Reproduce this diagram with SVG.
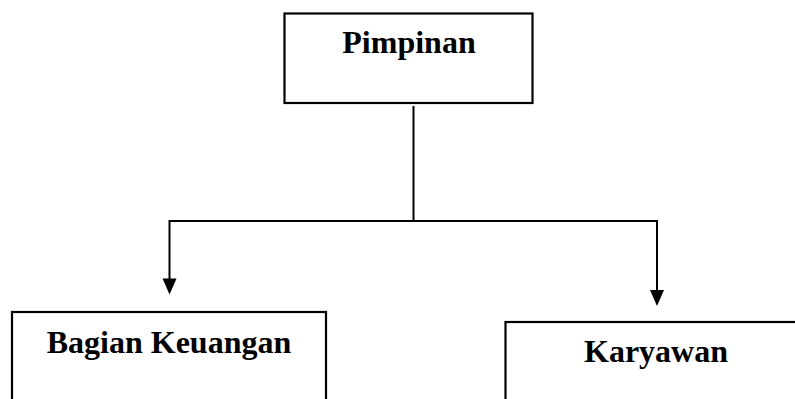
<svg xmlns="http://www.w3.org/2000/svg" width="795" height="399" viewBox="0 0 795 399">
<defs>
<style>
.box{fill:#fff;stroke:#000;stroke-width:2.2}
.lbl{font-family:"Liberation Serif","Times New Roman",serif;font-weight:bold;font-size:32px;fill:#000;text-anchor:middle}
.con{fill:none;stroke:#000;stroke-width:2}
</style>
</defs>
<rect width="795" height="399" fill="#fff"/>
<g id="pimpinan">
<rect class="box" x="284.5" y="13.5" width="248" height="89.5"/>
<text class="lbl" x="409" y="53">Pimpinan</text>
</g>
<g id="bagian-keuangan">
<rect class="box" x="12" y="312" width="314" height="100"/>
<text class="lbl" x="169" y="353">Bagian Keuangan</text>
</g>
<g id="karyawan">
<rect class="box" x="505.5" y="322" width="310" height="100"/>
<text class="lbl" x="656" y="362">Karyawan</text>
</g>
<g id="connectors">
<path class="con" d="M413.5,106 V221"/>
<path class="con" d="M169.5,221 H657"/>
<path class="con" d="M169.5,220 V280"/>
<path class="con" d="M657,220 V292"/>
<path d="M162.5,278.5 L176.5,278.5 L169.5,294.5 Z" fill="#000"/>
<path d="M650,290 L664,290 L657,306 Z" fill="#000"/>
</g>
</svg>
